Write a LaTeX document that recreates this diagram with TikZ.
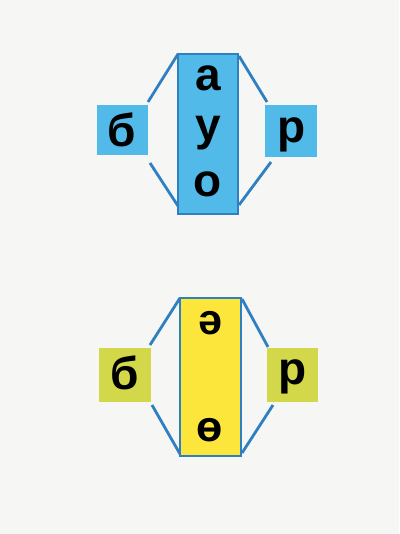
\documentclass[tikz,border=0pt]{standalone}
\usepackage{fontspec}
\setmainfont{Liberation Sans}
\definecolor{bg}{HTML}{F6F6F4}
\definecolor{lblue}{HTML}{52BAE9}
\definecolor{dblue}{HTML}{2F80C2}
\definecolor{lyel}{HTML}{FCE63C}
\definecolor{gyel}{HTML}{D3D84A}
\begin{document}
\begin{tikzpicture}[x=1pt,y=-1pt,
  letter/.style={font=\fontsize{46}{46}\selectfont\bfseries, anchor=base, inner sep=0pt},
  small/.style={font=\fontsize{43}{43}\selectfont\bfseries, anchor=base, inner sep=0pt},
  link/.style={draw=dblue, line width=2.8pt}]
\useasboundingbox (0,0) rectangle (399,534);
\fill[bg] (0,0) rectangle (399,534);
% top diagram
\fill[lblue] (97,105) rectangle (148,155);
\fill[lblue] (265,105) rectangle (317,157);
\draw[dblue, fill=lblue, line width=2.6pt] (178,54) rectangle (238,214);
\coordinate (tl1) at (148,102); \coordinate (tl2) at (178,54);
\coordinate (bl1) at (150,163); \coordinate (bl2) at (178,206);
\coordinate (tr1) at (239,56); \coordinate (tr2) at (267,102);
\coordinate (br1) at (239,205); \coordinate (br2) at (271,162);
\draw[link] (tl1) -- (tl2);
\draw[link] (bl1) -- (bl2);
\draw[link] (tr1) -- (tr2);
\draw[link] (br1) -- (br2);
\node[letter] (a) at (208,91) {а};
\node[letter] (u) at (208,141) {у};
\node[letter] (o) at (208,197) {о};
\node[letter] (b1) at (122,147) {б};
\node[letter] (r1) at (292,143) {р};
% bottom diagram
\fill[gyel] (99,348) rectangle (151,402);
\fill[gyel] (267,348) rectangle (318,402);
\draw[dblue, fill=lyel, line width=2.6pt] (180,298) rectangle (241,456);
\coordinate (tl3) at (150,345); \coordinate (tl4) at (180,298);
\coordinate (bl3) at (152,405); \coordinate (bl4) at (180,454);
\coordinate (tr3) at (242,299); \coordinate (tr4) at (268,347);
\coordinate (br3) at (242,453); \coordinate (br4) at (273,405);
\draw[link] (tl3) -- (tl4);
\draw[link] (bl3) -- (bl4);
\draw[link] (tr3) -- (tr4);
\draw[link] (br3) -- (br4);
\node[small] (e1) at (210,334) {ә};
\node[small] (e2) at (210,441) {ө};
\node[letter] (b2) at (125,389) {б};
\node[letter] (r2) at (293,384) {р};
\end{tikzpicture}
\end{document}
